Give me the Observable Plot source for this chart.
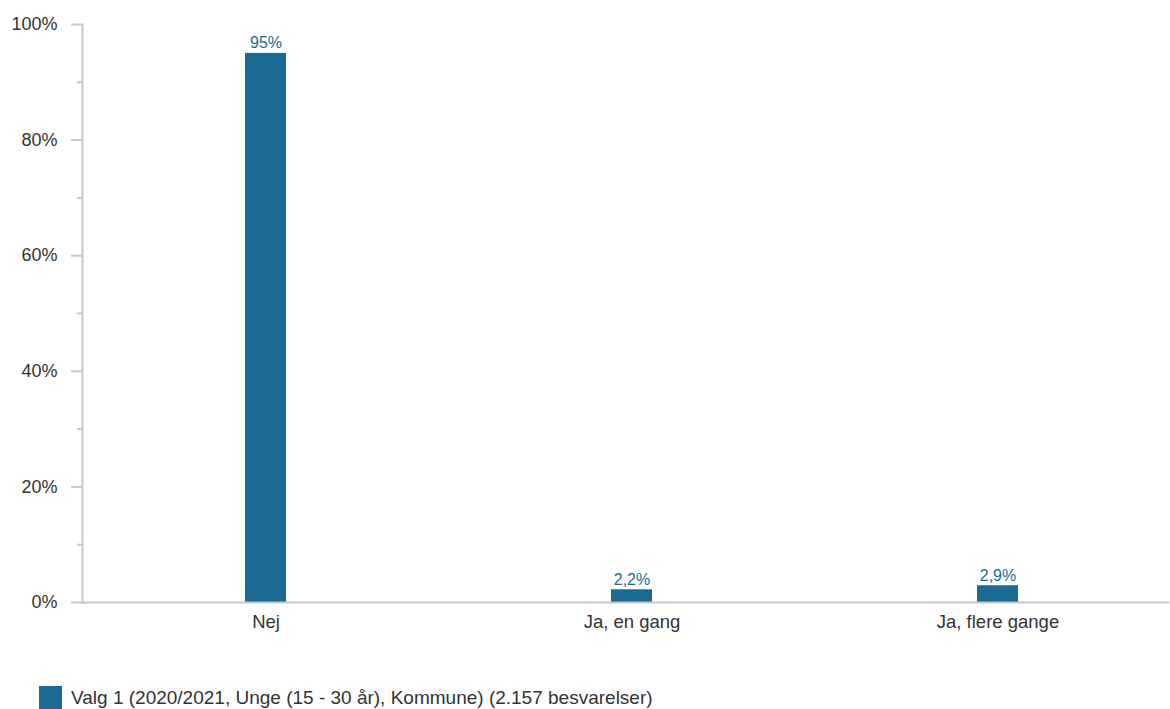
<!DOCTYPE html>
<html>
<head>
<meta charset="utf-8">
<script src="https://cdn.jsdelivr.net/npm/d3@7"></script>
<script src="https://cdn.jsdelivr.net/npm/@observablehq/plot@0.6"></script>
<style>
  body { margin: 0; background: #fff; font-family: "Liberation Sans", Arial, sans-serif; }
  #legend { display: flex; align-items: center; margin-left: 39px; margin-top: 26px; font-size: 19px; color: #333; }
  #legend .sw { width: 23px; height: 23px; margin-right: 9px; }
</style>
</head>
<body>
<div id="chart"></div>
<div id="legend"></div>
<script>
const categories = ["Nej", "Ja, en gang", "Ja, flere gange"];
const values = [95, 2.2, 2.9];
const valueLabels = ["95%", "2,2%", "2,9%"];
const yTicks = [0, 20, 40, 60, 80, 100];
const yMinorTicks = [10, 30, 50, 70, 90];
const seriesName = "Valg 1 (2020/2021, Unge (15 - 30 år), Kommune) (2.157 besvarelser)";
const color = "#1b6a93";
const axisColor = "#c8c8c8";

const data = categories.map((c, i) => ({cat: c, v: values[i], label: valueLabels[i]}));

const chart = Plot.plot({
  width: 1170,
  height: 660,
  marginTop: 24,
  marginBottom: 58,
  marginLeft: 82,
  marginRight: 2,
  style: {fontFamily: "'Liberation Sans', Arial, sans-serif", fontSize: "18px", color: "#333"},
  x: {domain: categories, range: [82.5, 1180.5], paddingInner: 0.888, paddingOuter: 0.444, label: null},
  y: {domain: [0, 100], label: null},
  marks: [
    Plot.axisY(yMinorTicks, {tickSize: 5, tickFormat: () => "", stroke: axisColor, strokeWidth: 2}),
    Plot.axisY(yTicks, {tickSize: 11, tickPadding: 14, tickFormat: d => d + "%", stroke: axisColor, strokeWidth: 2, fill: "#333", fontSize: 18}),
    Plot.axisX({tickSize: 0, tickPadding: 12, fontSize: 18.5, fill: "#333"}),
    Plot.barY(data, {x: "cat", y: "v", fill: color}),
    Plot.frame({anchor: "left", stroke: axisColor, strokeWidth: 2}),
    Plot.frame({anchor: "bottom", stroke: axisColor, strokeWidth: 2}),
    Plot.text(data, {x: "cat", y: "v", text: "label", dy: -5, lineAnchor: "bottom", fill: color, fontSize: 16})
  ]
});
document.getElementById("chart").appendChild(chart);

const lg = document.getElementById("legend");
const sw = document.createElement("div");
sw.className = "sw";
sw.style.background = color;
lg.appendChild(sw);
const t = document.createElement("span");
t.textContent = seriesName;
lg.appendChild(t);
</script>
</body>
</html>
